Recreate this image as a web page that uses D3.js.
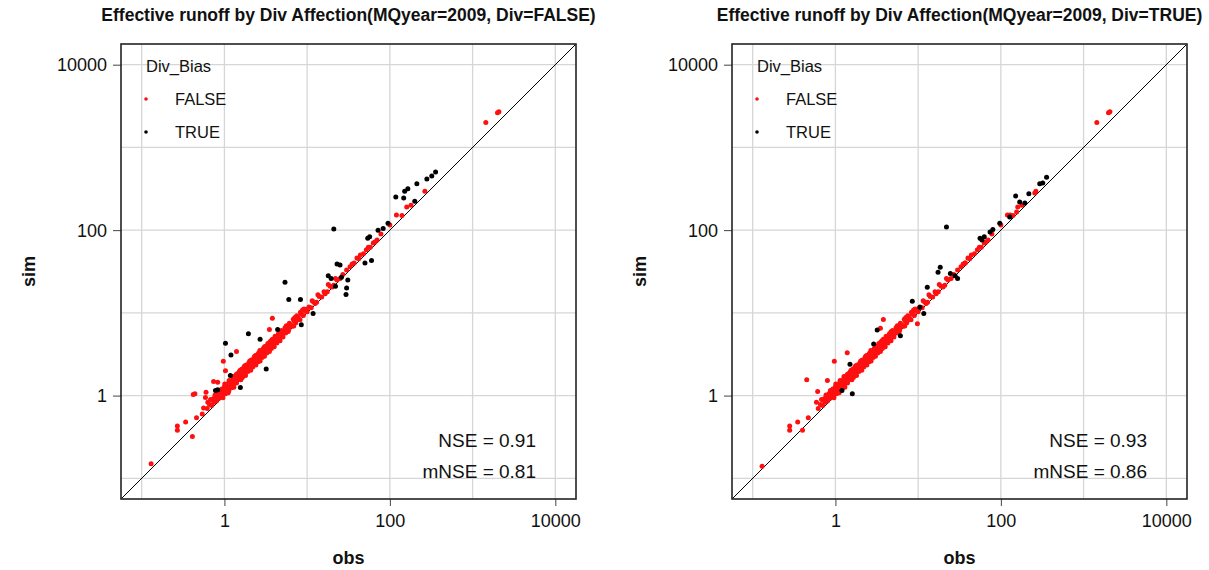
<!DOCTYPE html>
<html>
<head>
<meta charset="utf-8">
<script src="https://cdn.jsdelivr.net/npm/d3@7"></script>
<style>
  html, body { margin: 0; padding: 0; background: #fff; }
  svg { display: block; font-family: "Liberation Sans", Arial, Helvetica, sans-serif; }
</style>
</head>
<body>
<svg id="chart" width="1209" height="570"></svg>
<script>
// ---- data -------------------------------------------------------------
const panelTitles = [
  "Effective runoff by Div Affection(MQyear=2009, Div=FALSE)",
  "Effective runoff by Div Affection(MQyear=2009, Div=TRUE)"
];
const groupNames = ["FALSE", "TRUE"];
const axisTicks = [1, 100, 10000];
const gridTicks = [0.1, 1, 10, 100, 1000, 10000];
const nseValues = [0.91, 0.93];
const mnseValues = [0.81, 0.86];

// Stations without diversion bias (shared by both runs)
const redCoreObs = [
  0.62,0.66,0.70,0.72,0.75,0.78,0.80,0.82,0.85,0.88,0.90,0.92,0.95,0.97,0.99,
  1.02,1.05,1.07,1.10,1.12,1.15,1.18,1.20,1.23,1.25,1.28,1.30,1.33,1.36,1.38,
  1.42,1.45,1.48,1.50,1.54,1.57,1.60,1.63,1.67,1.70,1.74,1.78,1.82,1.86,1.90,1.95,
  2.0,2.05,2.1,2.15,2.2,2.25,2.3,2.38,2.45,2.5,2.6,2.65,2.75,2.8,2.9,3.0,3.1,3.2,
  3.3,3.4,3.5,3.6,3.75,3.9,4.0,4.2,4.4,4.6,4.8,5.0,
  5.2,5.5,5.8,6.0,6.3,6.6,7.0,7.3,7.7,8.0,8.5,9.0,9.5,10,
  10.5,11.2,12,13,14,15,16,17.5,19,21,23,25,
  30,33,37,40,44,48,52,58,63,70,78,
  100,120,140,160,180,265,1445,2000,2080,
  0.74,0.84,0.93,1.0,1.08,1.16,1.26,1.34,1.44,1.52,1.62,1.72,1.84,1.97,2.12,2.28,
  2.42,2.58,2.72,2.95,3.15,3.35,3.55,3.8,4.1,4.5,4.9,5.4,6.1,6.8,7.5,8.3,9.2,
  1.03,1.13,1.22,1.40,1.65,1.92,2.2,2.55,2.85,3.25,3.7,4.3,5.1,5.9,6.9,8.2,
  0.68,0.77,0.87,0.94,1.01,1.09,1.14,1.19,1.27,1.31,1.39,1.47,1.55,1.66,1.76,1.88,
  2.02,2.18,2.33,2.48,2.68,2.88,3.05,3.45,3.65,4.05,4.7,5.3,5.6,6.4,7.1,7.8,8.8,9.8,
  11.5,12.5,13.5,16.5,18,20,22,27,35,42,55,66,
  0.96,1.11,1.30,1.58,1.80,2.08,2.40,2.70,3.05,3.50,4.0,4.7
];
const redCoreSim = [
  0.70,0.78,0.76,0.88,0.83,0.95,0.86,0.98,0.92,1.05,0.97,1.12,1.02,1.18,1.08,
  1.12,1.25,1.15,1.32,1.20,1.28,1.40,1.27,1.45,1.35,1.52,1.38,1.48,1.60,1.45,
  1.65,1.55,1.72,1.58,1.80,1.68,1.92,1.72,1.95,1.82,2.05,1.88,2.15,1.98,2.25,2.05,
  2.35,2.18,2.5,2.3,2.6,2.4,2.75,2.5,2.9,2.65,3.05,2.8,3.2,2.95,3.4,3.15,3.6,3.35,
  3.85,3.55,4.1,3.75,4.3,4.05,4.7,4.4,5.0,4.8,5.5,5.2,
  6.0,5.7,6.6,6.3,7.2,6.9,7.9,7.6,8.6,8.3,9.6,9.3,10.5,10.3,
  11.8,11.5,13.5,13.4,15.8,15.5,18,18,21,21.5,25,26,
  33,36,40,46,50,52,58,62,70,76,90,
  115,152,150,190,200,295,1995,2630,2700,
  0.92,1.06,1.20,1.28,1.38,1.48,1.60,1.70,1.85,1.95,2.08,2.20,2.35,2.48,2.70,2.88,
  3.08,3.25,3.45,3.70,3.95,4.25,4.45,4.8,5.2,5.6,6.1,6.6,7.5,8.4,9.2,10.2,11.1,
  1.05,1.14,1.24,1.42,1.66,1.95,2.22,2.57,2.88,3.28,3.72,4.33,5.12,5.95,6.95,8.25,
  0.90,1.02,1.15,0.98,1.38,1.22,1.52,1.30,1.70,1.55,1.80,1.62,2.02,1.85,2.30,2.10,
  2.62,2.45,3.0,2.80,3.5,3.2,3.9,3.9,4.6,4.5,5.9,5.8,7.0,7.0,8.8,8.7,10.8,11.0,
  14.0,13.0,16.5,17.0,22,20.5,26,29,39,45,62,72,
  0.94,1.08,1.26,1.55,1.75,2.02,2.35,2.62,2.98,3.42,3.9,4.6
];

// Scattered unbiased stations, run without diversion
const redExtraObsA = [0.13,0.27,0.27,0.34,0.41,0.46,0.54,0.44,0.60,0.59,0.63,0.56,0.83,0.85,0.97,1.03,1.4,3.8,3.5,0.74,0.42];
const redExtraSimA = [0.15,0.43,0.38,0.48,0.32,0.54,0.60,1.05,1.10,0.95,0.83,0.71,1.45,1.15,2.6,2.0,3.4,8.6,6.3,1.48,1.03];
// Scattered unbiased stations, run with diversion
const redExtraObsB = [0.13,0.28,0.28,0.35,0.40,0.47,0.59,0.61,0.45,0.80,0.97,1.39,3.8,9.8,3.5,37,257,129,155];
const redExtraSimB = [0.14,0.43,0.38,0.48,0.38,0.54,0.83,1.12,1.55,1.52,2.6,3.3,8.3,7.4,6.5,40,282,152,166];

// Stations with diversion bias
const blackObsA = [0.78,0.83,1.03,1.2,1.18,1.56,3.2,1.95,2.7,4.4,5.4,6.0,8.3,8.5,11.8,21,18,23,25,26,29.5,30,31,50,60,54,57,72,83,95,118,147,151,165,200,212,280,321,357,19.5,22];
const blackSimA = [1.15,1.18,4.3,3.1,1.75,1.25,2.1,5.6,4.8,6.3,23.4,14.5,14.5,7.2,9.8,103,28,39,38,27,16.7,20,25,40,43,80,83,100,105,121,251,245,295,316,224,363,415,450,505,26,21];
const blackObsB = [1.2,1.6,1.5,2.9,3.2,6.1,8.5,10.5,11.7,12.9,17.4,18.5,22,24.5,28,30,56,59,63,74,80,97,128,151,169,195,218,295,321,357];
const blackSimB = [1.15,1.05,2.4,4.2,6.2,5.3,13.8,11.7,9.8,20.4,31,35.5,109,30,28,26,80,76,83,95,102,121,144,258,219,213,275,363,372,437];

// ---- layout -----------------------------------------------------------
const svg = d3.select("#chart");
svg.append("rect").attr("width", 1209).attr("height", 570).attr("fill", "#fff");

const size = 455;
const domain = [Math.pow(10, -1.25), Math.pow(10, 4.25)];
const panels = [
  { left: 121, top: 44, title: panelTitles[0], nse: nseValues[0], mnse: mnseValues[0],
    red: [redCoreObs.concat(redExtraObsA), redCoreSim.concat(redExtraSimA)],
    black: [blackObsA, blackSimA] },
  { left: 732, top: 44, title: panelTitles[1], nse: nseValues[1], mnse: mnseValues[1],
    red: [redCoreObs.concat(redExtraObsB), redCoreSim.concat(redExtraSimB)],
    black: [blackObsB, blackSimB] }
];
const colors = { FALSE: "#ff1010", TRUE: "#000" };

panels.forEach(p => {
  const x = d3.scaleLog().domain(domain).range([0, size]);
  const y = d3.scaleLog().domain(domain).range([size, 0]);
  const g = svg.append("g").attr("transform", `translate(${p.left},${p.top})`);

  // title
  svg.append("text")
    .attr("x", p.left + size / 2).attr("y", 21)
    .attr("text-anchor", "middle")
    .attr("font-weight", "bold").attr("font-size", 17.5).attr("fill", "#111")
    .text(p.title);

  // grid
  g.append("g").selectAll("line.v").data(gridTicks).join("line")
    .attr("x1", d => x(d)).attr("x2", d => x(d)).attr("y1", 0).attr("y2", size)
    .attr("stroke", "#d6d6d6").attr("stroke-width", 1.3);
  g.append("g").selectAll("line.h").data(gridTicks).join("line")
    .attr("y1", d => y(d)).attr("y2", d => y(d)).attr("x1", 0).attr("x2", size)
    .attr("stroke", "#d6d6d6").attr("stroke-width", 1.3);

  // axes
  const fmt = d3.format("d");
  const ax = g.append("g").attr("transform", `translate(0,${size})`)
    .call(d3.axisBottom(x).tickValues(axisTicks).tickFormat(fmt).tickSize(7).tickPadding(8));
  const ay = g.append("g")
    .call(d3.axisLeft(y).tickValues(axisTicks).tickFormat(fmt).tickSize(8).tickPadding(6));
  [ax, ay].forEach(a => {
    a.select(".domain").remove();
    a.selectAll(".tick line").attr("stroke", "#444").attr("stroke-width", 1);
    a.selectAll(".tick text").attr("font-size", 18).attr("fill", "#111")
      .attr("font-family", "Liberation Sans, Arial, sans-serif");
  });
  ay.selectAll(".tick text").attr("dy", "0.35em");

  // 1:1 line
  g.append("line")
    .attr("x1", x(domain[0])).attr("y1", y(domain[0]))
    .attr("x2", x(domain[1])).attr("y2", y(domain[1]))
    .attr("stroke", "#000").attr("stroke-width", 1);

  // points
  const drawGroup = (obs, sim, col) => {
    g.append("g").selectAll("circle").data(obs.map((o, i) => [o, sim[i]])).join("circle")
      .attr("cx", d => x(d[0])).attr("cy", d => y(d[1])).attr("r", 2.5)
      .attr("fill", col);
  };
  drawGroup(p.red[0], p.red[1], colors.FALSE);
  drawGroup(p.black[0], p.black[1], colors.TRUE);

  // frame
  g.append("rect").attr("width", size).attr("height", size)
    .attr("fill", "none").attr("stroke", "#222").attr("stroke-width", 1.6);

  // legend
  const lg = g.append("g").attr("transform", "translate(25,0)");
  lg.append("text").attr("x", 0).attr("y", 28).attr("font-size", 16.5).attr("fill", "#111").text("Div_Bias");
  groupNames.forEach((name, i) => {
    lg.append("circle").attr("cx", 0).attr("cy", 55 + i * 33).attr("r", 1.8).attr("fill", colors[name]);
    lg.append("text").attr("x", 29).attr("y", 61 + i * 33).attr("font-size", 16.5).attr("fill", "#111").text(name);
  });

  // fit statistics
  g.append("text").attr("x", size - 40).attr("y", 403).attr("text-anchor", "end")
    .attr("font-size", 19).attr("fill", "#111").text(`NSE = ${p.nse.toFixed(2)}`);
  g.append("text").attr("x", size - 40).attr("y", 434).attr("text-anchor", "end")
    .attr("font-size", 19).attr("fill", "#111").text(`mNSE = ${p.mnse.toFixed(2)}`);

  // axis titles
  svg.append("text").attr("x", p.left + size / 2).attr("y", 564)
    .attr("text-anchor", "middle").attr("font-weight", "bold").attr("font-size", 18)
    .attr("fill", "#111").text("obs");
  svg.append("text")
    .attr("transform", `translate(${p.left - 86},${p.top + size / 2}) rotate(-90)`)
    .attr("text-anchor", "middle").attr("font-weight", "bold").attr("font-size", 18)
    .attr("fill", "#111").text("sim");
});
</script>
</body>
</html>
